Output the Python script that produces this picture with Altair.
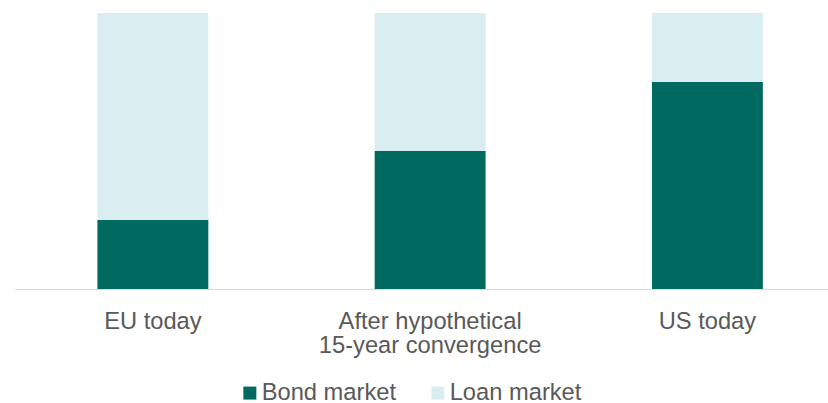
import altair as alt
import pandas as pd

categories = ["EU today", "After hypothetical|15-year convergence", "US today"]
bond_market = [25, 50, 75]
loan_market = [75, 50, 25]
series = ["Bond market", "Loan market"]
colors = ["#006A60", "#DAEEF1"]

rows = []
for i, c in enumerate(categories):
    rows.append({"category": c, "series": series[0], "value": bond_market[i], "ord": 0})
    rows.append({"category": c, "series": series[1], "value": loan_market[i], "ord": 1})
df = pd.DataFrame(rows)

FONT = "Liberation Sans"
FS = 23.7

chart = alt.Chart(df).mark_bar().encode(
    x=alt.X("category:N", sort=categories,
            scale=alt.Scale(paddingInner=0.6, paddingOuter=0.267, align=0.56),
            axis=alt.Axis(title=None, labelAngle=0, ticks=False, tickSize=0,
                          labelPadding=20, labelFont=FONT, labelFontSize=FS,
                          labelColor="#595959", labelLineHeight=24, labelLimit=0,
                          labelExpr="split(datum.label, '|')",
                          domainColor="#D9D9D9", domainWidth=1.2, grid=False)),
    y=alt.Y("value:Q", stack="zero", scale=alt.Scale(domain=[0, 100]), axis=None),
    color=alt.Color("series:N", scale=alt.Scale(domain=series, range=colors),
                    legend=alt.Legend(title=None, orient="none", direction="horizontal",
                                      legendX=223.5, legendY=368, symbolType="square",
                                      symbolSize=169, symbolStrokeWidth=0, labelFont=FONT,
                                      labelFontSize=FS, labelColor="#595959", labelLimit=0,
                                      labelOffset=0, columnPadding=30, padding=0)),
    order=alt.Order("ord:Q"),
).properties(
    width=813.5, height=276,
    background="white",
    autosize=alt.AutoSizeParams(type="none"),
    padding={"left": 14.5, "top": 13, "right": 0, "bottom": 114},
).configure_view(stroke=None)

chart.save("out.html", embed_options={"renderer": "svg", "actions": False})
